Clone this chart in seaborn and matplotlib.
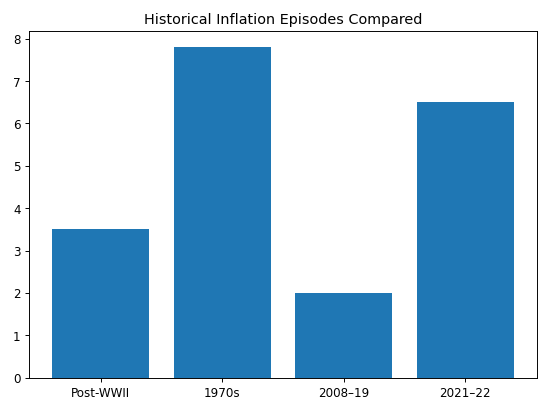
import pandas as pd
import seaborn as sns
import matplotlib.pyplot as plt

episodes = ["Post-WWII", "1970s", "2008\u201319", "2021\u201322"]
peak_inflation = [3.5, 7.8, 2.0, 6.5]

df = pd.DataFrame({"episode": episodes, "value": peak_inflation})

# default 6.4x4.8 figure, rendered down to 550x412
dpi = 100 * 550 / 640
fig, ax = plt.subplots(figsize=(6.4, 4.8), dpi=dpi)
sns.barplot(data=df, x="episode", y="value", color="#1f77b4",
            saturation=1, width=0.8, ax=ax)

# matplotlib-style margins instead of seaborn's categorical limits
ax.set_xlim(-0.59, 3.59)
ax.set_ylim(0, 8.19)

ax.set_title("Historical Inflation Episodes Compared")
ax.set_xlabel("")
ax.set_ylabel("")

plt.tight_layout()
plt.savefig("out.png", dpi=dpi)
